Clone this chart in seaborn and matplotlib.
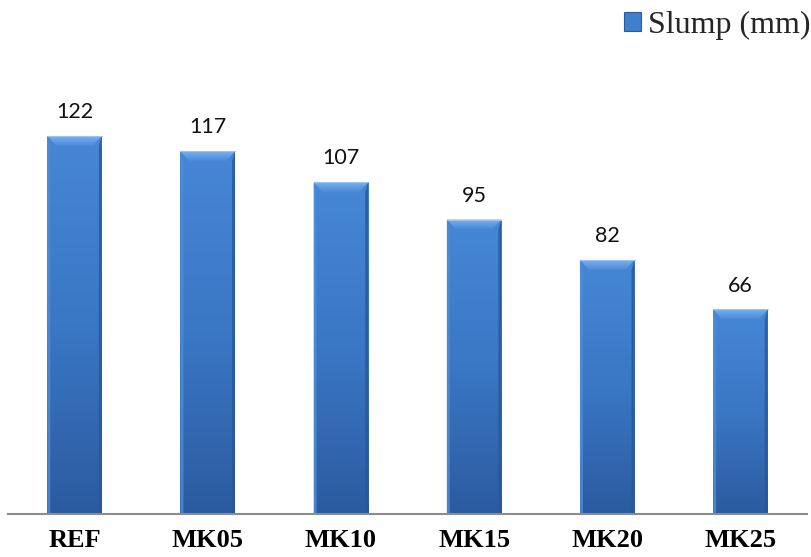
import numpy as np
import matplotlib
matplotlib.use("Agg")
import matplotlib.pyplot as plt
from matplotlib.patches import Patch, Polygon
from matplotlib.colors import LinearSegmentedColormap
import seaborn as sns

categories = ["REF", "MK05", "MK10", "MK15", "MK20", "MK25"]
slump_mm = [122, 117, 107, 95, 82, 66]
series_name = "Slump (mm)"

sns.set_style("white")
plt.rcParams["font.family"] = ["DejaVu Sans"]

W, H = 811, 557
fig = plt.figure(figsize=(W / 100, H / 100), dpi=100)
ax = fig.add_axes([8 / W, 43 / H, (807 - 8) / W, (514 - 80) / H])

sns.barplot(x=categories, y=slump_mm, color="#3f7fcc", width=0.41, ax=ax,
            saturation=1, edgecolor="none", linewidth=0)
ax.set_xlim(-0.5, len(categories) - 0.5)
ax.set_ylim(0, 140)

# pixel to data scale
px_x = (len(categories)) / (807 - 8)
px_y = 140 / (514 - 80)

grad = LinearSegmentedColormap.from_list("g", ["#2b5b9f", "#3a77c5", "#4587d6"])
topgrad = LinearSegmentedColormap.from_list("t", ["#4a8ad8", "#7ab0f0"])
for p in list(ax.patches):
    x0, w, h = p.get_x(), p.get_width(), p.get_height()
    x1 = x0 + w
    z = p.get_zorder()
    img = np.linspace(0, 1, 256).reshape(-1, 1)
    im = ax.imshow(img, cmap=grad, origin="lower", aspect="auto",
                   extent=(x0, x1, 0, h), zorder=z + 0.1)
    im.set_clip_path(p)
    dx, dy = 9 * px_x, 10 * px_y
    sx = 3 * px_x
    top = Polygon([(x0, h), (x1, h), (x1 - dx, h - dy), (x0 + dx, h - dy)],
                  closed=True, facecolor="none", edgecolor="none", zorder=z + 0.3)
    ax.add_patch(top)
    tim = ax.imshow(img, cmap=topgrad, origin="lower", aspect="auto",
                    extent=(x0, x1, h - dy, h), zorder=z + 0.3)
    tim.set_clip_path(top)
    left = Polygon([(x0, h), (x0 + sx, h - dy), (x0 + sx, 0), (x0, 0)],
                   closed=True, facecolor="#4f8cd8", edgecolor="none",
                   alpha=0.8, zorder=z + 0.2)
    right = Polygon([(x1, h), (x1 - sx, h - dy), (x1 - sx, 0), (x1, 0)],
                    closed=True, facecolor="#28579a", edgecolor="none",
                    alpha=0.8, zorder=z + 0.2)
    ax.add_patch(left)
    ax.add_patch(right)
    ax.plot([x0, x1], [h, h], color="#9cc4f2", lw=0.8, zorder=z + 0.4)

ax.bar_label(ax.containers[0], labels=[str(v) for v in slump_mm],
             padding=10, fontsize=15.5, family=["Lato", "DejaVu Sans"],
             color="#111111")

for s in ["left", "right", "top"]:
    ax.spines[s].set_visible(False)
ax.spines["bottom"].set_color("#8c8c8c")
ax.spines["bottom"].set_linewidth(1.5)
ax.set_yticks([])
ax.tick_params(axis="x", length=0, pad=10.5)
for lab in ax.get_xticklabels():
    lab.set_fontfamily(["Liberation Serif", "DejaVu Serif"])
    lab.set_fontweight("bold")
    lab.set_fontsize(19)
    lab.set_color("#000000")

handle = Patch(facecolor="#3f7fcc", edgecolor="#2a5a9e", linewidth=0.8,
               label=series_name)
leg = ax.legend(handles=[handle], loc="upper right",
                bbox_to_anchor=(810 / W, 1 - 11 / H),
                bbox_transform=fig.transFigure, frameon=False,
                handlelength=0.55, handleheight=0.55, handletextpad=0.2,
                borderaxespad=0, borderpad=0,
                prop={"family": ["Liberation Serif", "DejaVu Serif"], "size": 23})

fig.savefig("out.png", dpi=100)
